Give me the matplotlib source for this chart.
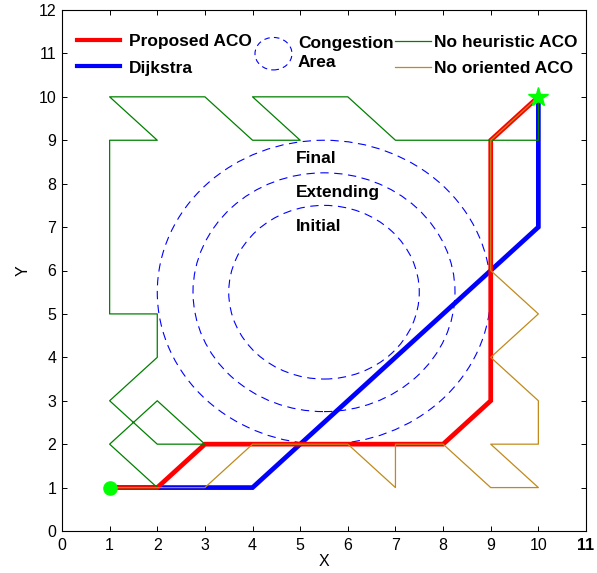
import matplotlib
matplotlib.use("Agg")
import matplotlib.pyplot as plt
from matplotlib.patches import Circle, Ellipse
from matplotlib.lines import Line2D
from matplotlib.legend_handler import HandlerPatch

plt.rcParams['font.family'] = ['Liberation Sans', 'DejaVu Sans']
plt.rcParams['lines.scale_dashes'] = False

# ---- data ----
proposed_x = [1, 2, 3, 8, 9, 9, 10]
proposed_y = [1, 1, 2, 2, 3, 9, 10]

dijkstra_x = [1, 4, 10, 10]
dijkstra_y = [1, 1, 7, 10]

noheur_x = [1, 2, 1, 2, 3, 2, 1, 2, 2, 1, 1, 2, 1, 3, 4, 5, 4, 6, 7, 10, 10]
noheur_y = [1, 1, 2, 3, 2, 2, 3, 4, 5, 5, 9, 9, 10, 10, 9, 9, 10, 10, 9, 9, 10]

noorient_x = [1, 3, 4, 6, 7, 7, 8, 9, 10, 9, 10, 10, 9, 10, 9, 9, 10]
noorient_y = [1, 1, 2, 2, 1, 2, 2, 1, 1, 2, 2, 3, 4, 5, 6, 9, 10]

congestion_center = (5.5, 5.5)
congestion_radii = [2.0, 2.75, 3.5]
congestion_labels = ['Initial', 'Extending', 'Final']
congestion_label_y = [7.02, 7.79, 8.59]
congestion_label_x = 4.92

start = (1, 1)
goal = (10, 10)

xticks = list(range(0, 12))
yticks = list(range(0, 13))

# ---- figure ----
fig = plt.figure(figsize=(5.97, 5.73), dpi=100)
ax = fig.add_axes([62/597, 1 - 531/573, 524/597, 521/573])

dash = (0, (6, 4))
for r in congestion_radii:
    ax.add_patch(Circle(congestion_center, r, fill=False, edgecolor='blue',
                        linestyle=dash, linewidth=0.8, zorder=1))

ORANGE = '#c08a1a'
GREEN = '#008000'
ax.plot(dijkstra_x, dijkstra_y, color='blue', lw=3.4, zorder=2, solid_joinstyle='miter')
ax.plot(proposed_x, proposed_y, color='red', lw=3.4, zorder=3, solid_joinstyle='miter')
ax.plot(noheur_x, noheur_y, color=GREEN, lw=0.9, zorder=4)
ax.plot(noorient_x, noorient_y, color=ORANGE, lw=0.9, zorder=5)

ax.plot([start[0]], [start[1]], 'o', color='#00ff00', ms=9.5, zorder=6)
ax.plot([goal[0]], [goal[1]], '*', color='#00ff00', ms=15, zorder=6)

for lab, ly in zip(congestion_labels, congestion_label_y):
    ax.text(congestion_label_x, ly, lab, fontsize=12.5, fontweight='bold',
            ha='left', va='center', zorder=7)

ax.set_xlim(0, 11)
ax.set_ylim(0, 12)
ax.set_xticks(xticks)
ax.set_yticks(yticks)
ax.tick_params(direction='in', length=3.5, width=0.7, top=True, right=True,
               labelsize=11.5)
ax.tick_params(axis='x', pad=5)
ax.tick_params(axis='y', pad=4)
ax.get_xticklabels()[-1].set_fontweight('bold')
for s in ax.spines.values():
    s.set_linewidth(0.8)
ax.set_xlabel('X', fontsize=11.5, labelpad=1)
ax.set_ylabel('Y', fontsize=11.5, labelpad=6)

# ---- legends ----
prop = {'weight': 'bold', 'size': 12.5}

h1 = [Line2D([], [], color='red', lw=3), Line2D([], [], color='blue', lw=3)]
leg1 = ax.legend(h1, ['Proposed ACO', 'Dijkstra'], loc='center left',
                 bbox_to_anchor=(0.0286, 0.9146), frameon=False, prop=prop,
                 handlelength=2.5, handletextpad=0.5, labelspacing=0.68,
                 borderpad=0, borderaxespad=0)
ax.add_artist(leg1)


class HandlerEllipse(HandlerPatch):
    def create_artists(self, legend, orig_handle, xdescent, ydescent, width,
                       height, fontsize, trans):
        center = (0.5 * width - xdescent, 0.5 * height - ydescent)
        p = Ellipse(xy=center, width=width, height=height)
        self.update_prop(p, orig_handle, legend)
        p.set_transform(trans)
        return [p]


proxy = Ellipse((0, 0), 1, 1, fill=False, edgecolor='blue', linestyle=(0, (4, 3)),
                linewidth=0.8)
leg2 = ax.legend([proxy], ['Congestion\nArea'], loc='center left',
                 bbox_to_anchor=(0.3683, 0.9175), frameon=False, prop=prop,
                 handlelength=2.13, handleheight=2.5, handletextpad=0.35,
                 borderpad=0, borderaxespad=0,
                 handler_map={Ellipse: HandlerEllipse()})
for t in leg2.get_texts():
    t.set_linespacing(1.4)
ax.add_artist(leg2)

h3 = [Line2D([], [], color=GREEN, lw=0.9), Line2D([], [], color=ORANGE, lw=0.9)]
leg3 = ax.legend(h3, ['No heuristic ACO', 'No oriented ACO'], loc='center left',
                 bbox_to_anchor=(0.6355, 0.9127), frameon=False, prop=prop,
                 handlelength=2.07, handletextpad=0.17, labelspacing=0.58,
                 borderpad=0, borderaxespad=0)

fig.savefig('out.png', dpi=100)
